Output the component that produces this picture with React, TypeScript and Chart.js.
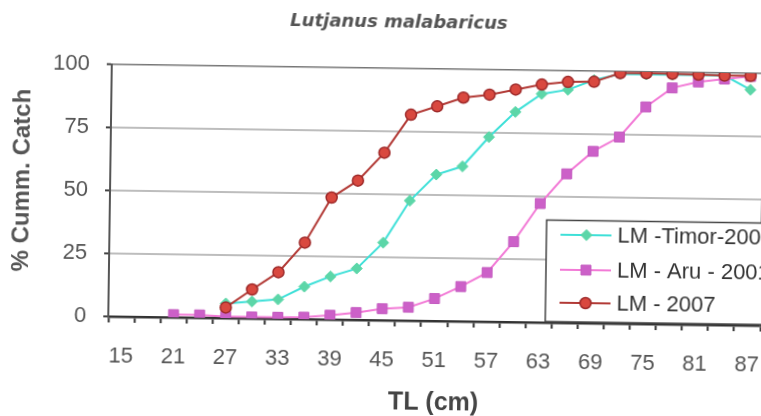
import React, { useEffect, useRef } from "react";
import { Chart, registerables } from "chart.js";

Chart.register(...registerables);

const TITLE = "Lutjanus malabaricus";
const X_TITLE = "TL (cm)";
const Y_TITLE = "% Cumm. Catch";

const categories = [
  "15", "18", "21", "24", "27", "30", "33", "36", "39", "42", "45", "48", "51",
  "54", "57", "60", "63", "66", "69", "72", "75", "78", "81", "84", "87",
];

const timorLabel = "LM -Timor-2001";
const timorValues = [
  null, null, null, null, 5.8, 6.7, 7.7, 12.9, 17.1, 20.4, 30.8, 47.6, 58.1,
  61.5, 73.3, 83.4, 90.7, 92.5, 96.5, 99, 99, 99, 99, 99, 93.5,
];

const aruLabel = "LM - Aru - 2001";
const aruValues = [
  null, null, 1.1, 1.1, 0.6, 0.6, 0.6, 0.8, 1.7, 2.9, 4.6, 5.3, 8.9,
  13.8, 19.5, 31.9, 47.2, 59.1, 68.2, 74, 86.1, 93.8, 96.3, 97.6, 98.8,
];

const lm2007Label = "LM - 2007";
const lm2007Values = [
  null, null, null, null, 4.2, 11.5, 18.5, 30.4, 48.4, 55.3, 66.5, 81.7, 85.2,
  88.8, 90.1, 92.3, 94.4, 95.6, 95.8, 99.4, 99.5, 99.4, 99.2, 99, 99,
];

const yTicks = [0, 25, 50, 75, 100];

const FONT = '"Liberation Sans", Arial, sans-serif';

const W = 793;
const H = 416;

const yTitlePlugin = {
  id: "yTitle",
  afterDraw(chart: any) {
    const ctx = chart.ctx;
    ctx.save();
    ctx.translate(22, 186);
    ctx.rotate(-Math.PI / 2);
    ctx.font = `bold 24px ${FONT}`;
    ctx.fillStyle = "#555";
    ctx.textAlign = "center";
    ctx.textBaseline = "middle";
    ctx.fillText(Y_TITLE, 0, 0);
    ctx.restore();
  },
};

const boxLegendPlugin = {
  id: "boxLegend",
  afterDraw(chart: any) {
    const ctx = chart.ctx;
    const left = 547;
    const top = 218.5;
    const bottom = 320;
    ctx.save();
    ctx.fillStyle = "#fff";
    ctx.fillRect(left, top, W - left + 10, bottom - top);
    ctx.strokeStyle = "#444";
    ctx.lineWidth = 1.5;
    ctx.strokeRect(left, top, W - left + 10, bottom - top);
    const rows = [233, 268, 301];
    chart.data.datasets.forEach((ds: any, i: number) => {
      const y = rows[i];
      ctx.strokeStyle = ds.borderColor;
      ctx.lineWidth = 2;
      ctx.beginPath();
      ctx.moveTo(561, y);
      ctx.lineTo(612, y);
      ctx.stroke();
      const cx = 587;
      const r = ds.pointRadius;
      ctx.fillStyle = ds.pointBackgroundColor;
      ctx.strokeStyle = ds.pointBorderColor;
      ctx.lineWidth = ds.pointBorderWidth;
      ctx.beginPath();
      if (ds.pointStyle === "rectRot") {
        ctx.moveTo(cx, y - r);
        ctx.lineTo(cx + r, y);
        ctx.lineTo(cx, y + r);
        ctx.lineTo(cx - r, y);
        ctx.closePath();
      } else if (ds.pointStyle === "rect") {
        const s = r * Math.SQRT1_2;
        ctx.rect(cx - s, y - s, 2 * s, 2 * s);
      } else {
        ctx.arc(cx, y, r, 0, Math.PI * 2);
      }
      ctx.fill();
      ctx.stroke();
      ctx.font = `22px ${FONT}`;
      ctx.fillStyle = "#333";
      ctx.textAlign = "left";
      ctx.textBaseline = "middle";
      ctx.fillText(ds.label, 618, y + 1);
    });
    ctx.restore();
  },
};

export default function App() {
  const ref = useRef<HTMLCanvasElement | null>(null);

  useEffect(() => {
    if (!ref.current) return;
    const chart = new Chart(ref.current, {
      type: "line",
      data: {
        labels: categories,
        datasets: [
          {
            label: timorLabel,
            data: timorValues,
            borderColor: "#3fe0d8",
            borderWidth: 2,
            pointStyle: "rectRot",
            pointRadius: 5.5,
            pointBackgroundColor: "#5cd6a8",
            pointBorderColor: "#5cd6a8",
            pointBorderWidth: 1,
            order: 2,
          },
          {
            label: aruLabel,
            data: aruValues,
            borderColor: "#f27ad6",
            borderWidth: 2,
            pointStyle: "rect",
            pointRadius: 7,
            pointBackgroundColor: "#cc60c8",
            pointBorderColor: "#c45cc0",
            pointBorderWidth: 1,
            order: 1,
          },
          {
            label: lm2007Label,
            data: lm2007Values,
            borderColor: "#b23a36",
            borderWidth: 2,
            pointStyle: "circle",
            pointRadius: 5.5,
            pointBackgroundColor: "#d9483f",
            pointBorderColor: "#9e2a2a",
            pointBorderWidth: 1.5,
            order: 0,
          },
        ] as any,
      },
      options: {
        responsive: false,
        animation: false,
        devicePixelRatio: 1,
        layout: { padding: 0 },
        plugins: {
          legend: { display: false },
          tooltip: { enabled: false },
          title: {
            display: true,
            text: TITLE,
            color: "#555",
            font: {
              family: '"DejaVu Sans", sans-serif',
              size: 18,
              weight: "bold",
              style: "italic",
              lineHeight: 1.2,
            },
            padding: { top: 12.7, bottom: 34.7 },
          },
        },
        scales: {
          x: {
            type: "category",
            offset: true,
            afterFit: (s: any) => {
              s.height = 95;
            },
            grid: {
              display: true,
              offset: true,
              drawOnChartArea: false,
              drawTicks: true,
              tickLength: 6,
              tickColor: "#333",
              tickWidth: 2,
            },
            border: { display: true, color: "#333", width: 2.5 },
            ticks: {
              autoSkip: false,
              maxRotation: 0,
              minRotation: 0,
              padding: 21,
              color: "#555",
              font: { family: FONT, size: 22, lineHeight: 1.2 },
              callback: (_v: any, i: number) => (i % 2 === 0 ? categories[i] : ""),
            },
            title: {
              display: true,
              text: X_TITLE,
              color: "#444",
              font: { family: FONT, size: 25, weight: "bold", lineHeight: 1 },
              padding: { top: 0, bottom: 0 },
            },
          },
          y: {
            min: 0,
            max: 100,
            afterFit: (s: any) => {
              s.width = 110;
            },
            afterBuildTicks: (s: any) => {
              s.ticks = yTicks.map((v) => ({ value: v }));
            },
            grid: {
              color: (c: any) =>
                c.tick && c.tick.value === 100 ? "#777" : "#bdbdbd",
              lineWidth: (c: any) => (c.tick && c.tick.value === 100 ? 1.5 : 2),
              tickLength: 5,
              tickColor: "#444",
              tickWidth: 2,
            },
            border: { display: true, color: "#555", width: 2 },
            ticks: {
              padding: 17,
              color: "#555",
              font: { family: FONT, size: 22 },
            },
          },
          y2: {
            position: "right",
            min: 0,
            max: 100,
            afterFit: (s: any) => {
              s.width = W - 762;
            },
            grid: { drawOnChartArea: false, drawTicks: false },
            border: { display: true, color: "#555", width: 1.5 },
            ticks: { display: false },
          },
        },
      } as any,
      plugins: [yTitlePlugin, boxLegendPlugin],
    });
    return () => chart.destroy();
  }, []);

  return (
    <div
      style={{
        position: "fixed",
        left: 0,
        top: 0,
        width: 761,
        height: 416,
        overflow: "hidden",
        background: "#fff",
      }}
    >
      <div
        style={{
          width: W,
          height: H,
          transform: "rotate(0.8deg)",
          transformOrigin: "436px 195px",
        }}
      >
        <canvas
          ref={ref}
          width={W}
          height={H}
          style={{ display: "block", width: W, height: H }}
        />
      </div>
    </div>
  );
}
